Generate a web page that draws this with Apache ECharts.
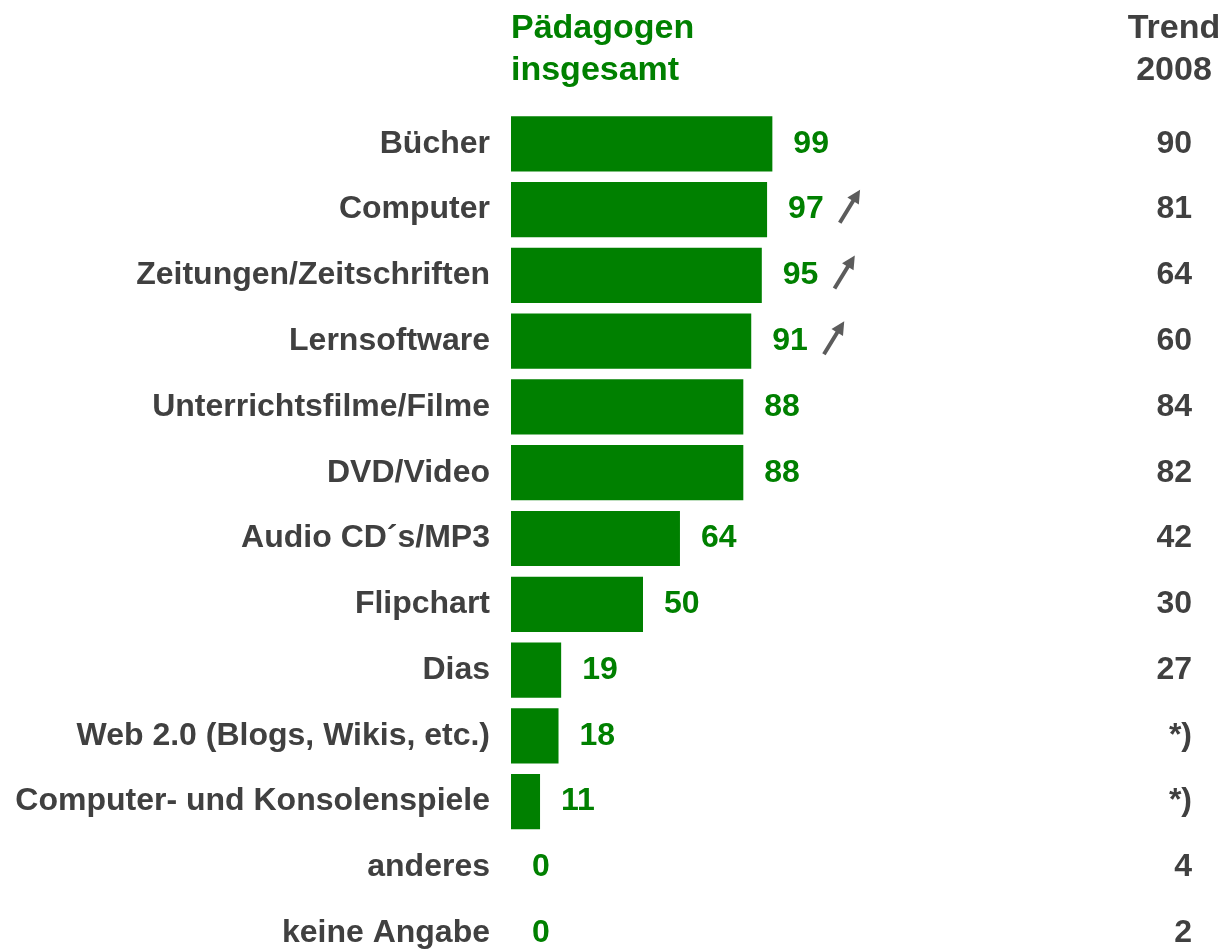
<!DOCTYPE html>
<html>
<head>
<meta charset="utf-8">
<script src="https://cdn.jsdelivr.net/npm/echarts@6/dist/echarts.min.js"></script>
<style>
  html, body { margin: 0; padding: 0; background: #fff; }
  #chart { width: 1226px; height: 949px; }
</style>
</head>
<body>
<div id="chart"></div>
<script>
var categories = ['Bücher', 'Computer', 'Zeitungen/Zeitschriften', 'Lernsoftware', 'Unterrichtsfilme/Filme',
  'DVD/Video', 'Audio CD´s/MP3', 'Flipchart', 'Dias', 'Web 2.0 (Blogs, Wikis, etc.)',
  'Computer- und Konsolenspiele', 'anderes', 'keine Angabe'];
var values = [99, 97, 95, 91, 88, 88, 64, 50, 19, 18, 11, 0, 0];
var trend2008 = ['90', '81', '64', '60', '84', '82', '42', '30', '27', '*)', '*)', '4', '2'];
var risingUp = [false, true, true, true, false, false, false, false, false, false, false, false, false];

var green = '#008000';
var ink = '#404040';
var font = '"Liberation Sans", Arial, sans-serif';

// Pfeil nach rechts oben (Trend gestiegen)
var arrowPath = 'path://M0.5 29.1 L12.3 9.4 L8.7 7.2 L20 0 L18.9 13.4 L15.3 11.2 L3.5 30.9 Z';
var arrowData = [];
values.forEach(function(v, i) {
  if (risingUp[i]) arrowData.push([v, i]);
});

var chart = echarts.init(document.getElementById('chart'), null, { renderer: 'canvas' });
chart.setOption({
  animation: false,
  title: [
    {
      text: 'Pädagogen\ninsgesamt',
      left: 506, top: 3,
      textStyle: { color: green, fontSize: 34, fontWeight: 'bold', fontFamily: font, lineHeight: 42 }
    },
    {
      text: 'Trend\n2008',
      left: 1169, top: 3, textAlign: 'center',
      textStyle: { color: ink, fontSize: 34, fontWeight: 'bold', fontFamily: font, lineHeight: 42 }
    }
  ],
  grid: { left: 511, top: 111, width: 264, height: 855, outerBoundsMode: 'none', containLabel: false },
  xAxis: {
    type: 'value', min: 0, max: 100, show: false
  },
  yAxis: [
    {
      type: 'category',
      data: categories,
      inverse: true,
      axisLine: { show: false },
      axisTick: { show: false },
      axisLabel: { color: ink, fontSize: 32, fontWeight: 'bold', fontFamily: font, margin: 21, padding: [4, 0, 0, 0] }
    },
    {
      type: 'category',
      data: trend2008,
      inverse: true,
      position: 'right',
      axisLine: { show: false },
      axisTick: { show: false },
      axisLabel: { color: ink, fontSize: 32, fontWeight: 'bold', fontFamily: font, margin: 417, align: 'right', padding: [4, 0, 0, 0] }
    }
  ],
  series: [
    {
      type: 'bar',
      data: values,
      barCategoryGap: '16%',
      itemStyle: { color: green },
      label: {
        show: true, position: 'right', distance: 21, padding: [4, 0, 0, 0],
        color: green, fontSize: 32, fontWeight: 'bold', fontFamily: font
      }
    },
    {
      type: 'scatter',
      data: arrowData,
      symbol: arrowPath,
      symbolSize: [22, 34],
      symbolOffset: [82, -3],
      itemStyle: { color: '#333333' },
      silent: true
    }
  ]
});
</script>
</body>
</html>
